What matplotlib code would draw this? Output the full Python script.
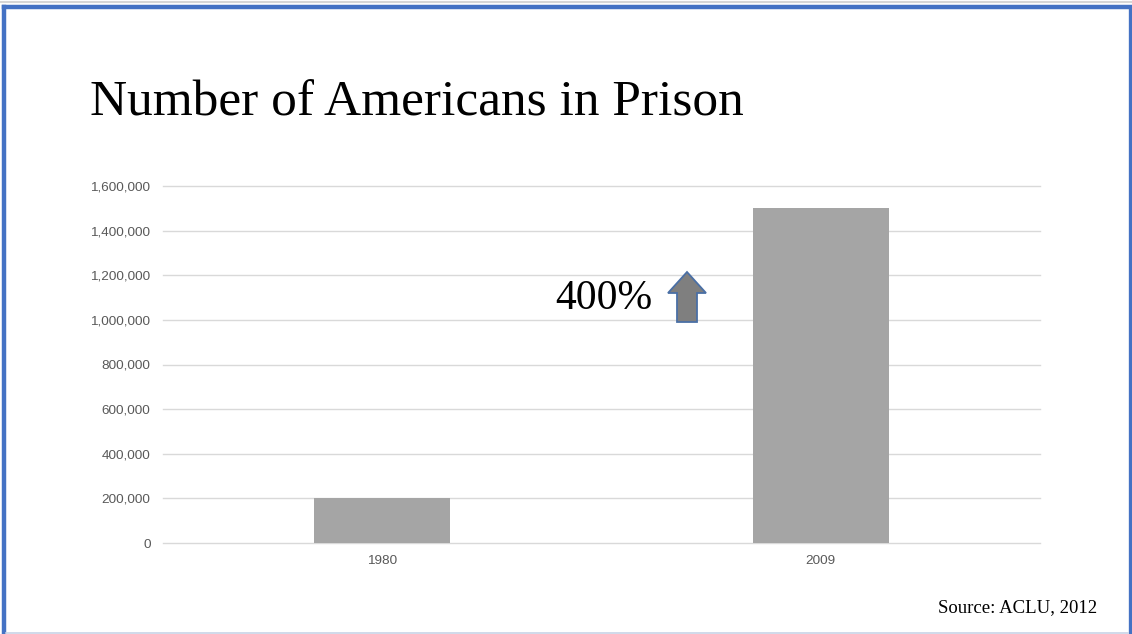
import matplotlib
matplotlib.use("Agg")
import matplotlib.pyplot as plt
from matplotlib.patches import FancyArrow
from matplotlib.lines import Line2D
from matplotlib.ticker import FuncFormatter

# --- data ---
years = ["1980", "2009"]
prisoners = [200000, 1500000]
y_ticks = [0, 200000, 400000, 600000, 800000, 1000000, 1200000, 1400000, 1600000]

TITLE = "Number of Americans in Prison"
NOTE = "400%"
SOURCE = "Source: ACLU, 2012"

W, H = 1132, 634
fig = plt.figure(figsize=(W / 100, H / 100), dpi=100)

# axes placed to match the slide
ax = fig.add_axes([163 / W, 1 - 543 / H, (1040 - 163) / W, (543 - 186) / H])
ax.bar(range(len(years)), prisoners, width=0.31, color="#a5a5a5", zorder=3)
ax.set_xlim(-0.5, len(years) - 0.5)
ax.set_ylim(0, 1600000)
ax.set_yticks(y_ticks)
ax.yaxis.set_major_formatter(FuncFormatter(lambda v, p: f"{int(v):,}"))
ax.set_xticks(range(len(years)))
ax.set_xticklabels(years)
ax.grid(axis="y", color="#d9d9d9", linewidth=1, zorder=0)
for gl in ax.get_ygridlines():
    gl.set_clip_on(False)
ax.set_axisbelow(True)
for s in ax.spines.values():
    s.set_visible(False)
ax.tick_params(length=0, labelsize=9.7, labelcolor="#595959")
ax.tick_params(axis="y", pad=9)
ax.tick_params(axis="x", pad=9)
for lab in ax.get_xticklabels() + ax.get_yticklabels():
    lab.set_family("Liberation Sans")

serif = ["Liberation Serif", "DejaVu Serif"]
fig.text(90 / W, 1 - 115 / H, TITLE, fontsize=37, family=serif, ha="left", va="baseline")
fig.text(555 / W, 1 - 309 / H, NOTE, fontsize=30, family=serif, ha="left", va="baseline")
fig.text(1097 / W, 1 - 612 / H, SOURCE, fontsize=13.5, family=serif, ha="right", va="baseline")

# up arrow next to the percentage
arrow = FancyArrow(687 / W, 1 - 322 / H, 0, 50 / H, width=20 / W, head_width=38 / W,
                   head_length=21 / H, length_includes_head=True,
                   transform=fig.transFigure, facecolor="#7f7f7f", edgecolor="#4a6fa5",
                   linewidth=1.3)
fig.patches.append(arrow)

# slide border
blue = "#4472c4"
fig.lines.append(Line2D([0, 1], [1 - 1.5 / H] * 2, transform=fig.transFigure, color="#d6d6d6", lw=1.5))
fig.lines.append(Line2D([4 / W, 1130 / W], [1 - 6.5 / H] * 2, transform=fig.transFigure, color=blue, lw=3.2))
fig.lines.append(Line2D([4 / W] * 2, [0, 1 - 6.5 / H], transform=fig.transFigure, color=blue, lw=3.2))
fig.lines.append(Line2D([1130 / W] * 2, [0, 1 - 6.5 / H], transform=fig.transFigure, color=blue, lw=2.4))
fig.lines.append(Line2D([6 / W, 1128 / W], [1 - 632.5 / H] * 2, transform=fig.transFigure, color="#c8d3e6", lw=1.2))

fig.savefig("out.png", dpi=100)
